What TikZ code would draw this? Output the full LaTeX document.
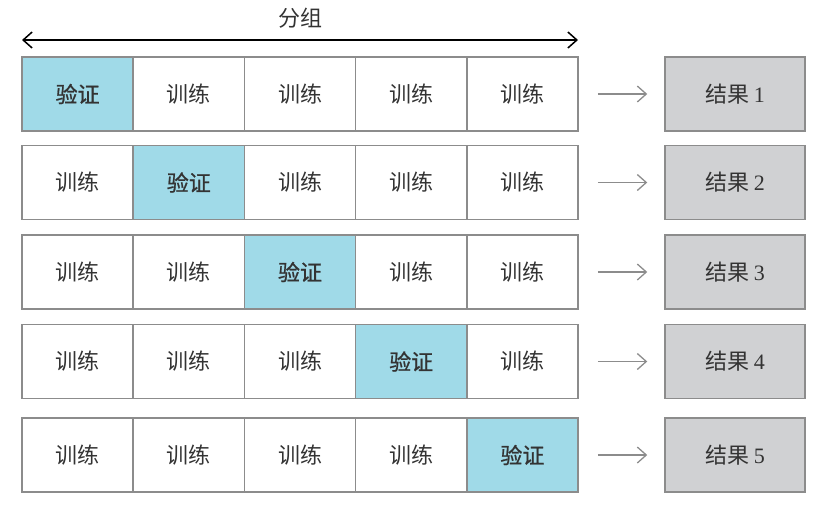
\documentclass[tikz,border=0pt]{standalone}
\usepackage{fontspec}
\setmainfont{Liberation Serif}
\newfontfamily\cjk{Noto Sans CJK SC}
\newfontfamily\cjkv[FakeBold=0.9]{Noto Sans CJK SC}
\usetikzlibrary{arrows.meta}
\definecolor{valblue}{HTML}{A0DAE8}
\definecolor{resgray}{HTML}{D0D1D3}
\definecolor{edgegray}{HTML}{8C8C8C}
\definecolor{txtgray}{HTML}{333333}

\begin{document}
\begin{tikzpicture}[x=1pt, y=-1pt, every node/.style={draw=edgegray, line width=1.5pt, inner sep=0pt, minimum height=74pt, text=txtgray, font=\cjk\fontsize{22}{26}\selectfont},
  train/.style={minimum width=111.2pt, fill=white},
  valid/.style={minimum width=111.2pt, fill=valblue, font=\cjkv\fontsize{22}{26}\selectfont},
  result/.style={minimum width=140pt, fill=resgray},
  flow/.style={draw=edgegray, line width=1.3pt, -{Straight Barb[length=9pt, width=16pt]}, shorten <=19pt, shorten >=17pt}]
  \useasboundingbox (0,0) rectangle (826,504);
  % row 1
  \node[valid] (11) at (77.6, 94) {验证};
  \node[train] (12) at (188.8, 94) {训练};
  \node[train] (13) at (300, 94) {训练};
  \node[train] (14) at (411.2, 94) {训练};
  \node[train] (15) at (522.4, 94) {训练};
  % row 2
  \node[train] (21) at (77.6, 182.5) {训练};
  \node[valid] (22) at (188.8, 182.5) {验证};
  \node[train] (23) at (300, 182.5) {训练};
  \node[train] (24) at (411.2, 182.5) {训练};
  \node[train] (25) at (522.4, 182.5) {训练};
  % row 3
  \node[train] (31) at (77.6, 272) {训练};
  \node[train] (32) at (188.8, 272) {训练};
  \node[valid] (33) at (300, 272) {验证};
  \node[train] (34) at (411.2, 272) {训练};
  \node[train] (35) at (522.4, 272) {训练};
  % row 4
  \node[train] (41) at (77.6, 361.5) {训练};
  \node[train] (42) at (188.8, 361.5) {训练};
  \node[train] (43) at (300, 361.5) {训练};
  \node[valid] (44) at (411.2, 361.5) {验证};
  \node[train] (45) at (522.4, 361.5) {训练};
  % row 5
  \node[train] (51) at (77.6, 455) {训练};
  \node[train] (52) at (188.8, 455) {训练};
  \node[train] (53) at (300, 455) {训练};
  \node[train] (54) at (411.2, 455) {训练};
  \node[valid] (55) at (522.4, 455) {验证};
  % results
  \node[result] (r1) at (735, 94) {结果 \rmfamily 1};
  \node[result] (r2) at (735, 182.5) {结果 \rmfamily 2};
  \node[result] (r3) at (735, 272) {结果 \rmfamily 3};
  \node[result] (r4) at (735, 361.5) {结果 \rmfamily 4};
  \node[result] (r5) at (735, 455) {结果 \rmfamily 5};
  \draw[flow] (15) -- (r1);
  \draw[flow] (25) -- (r2);
  \draw[flow] (35) -- (r3);
  \draw[flow] (45) -- (r4);
  \draw[flow] (55) -- (r5);
  % groups
  \coordinate (gl) at (22, 40);
  \coordinate (gr) at (578, 40);
  \draw[black, line width=1.5pt, {Straight Barb[length=9pt, width=16pt]}-{Straight Barb[length=9pt, width=16pt]}] (gl) -- (gr) node[midway, above=11pt, draw=none, minimum height=0pt, text=txtgray] {分组};
\end{tikzpicture}
\end{document}
